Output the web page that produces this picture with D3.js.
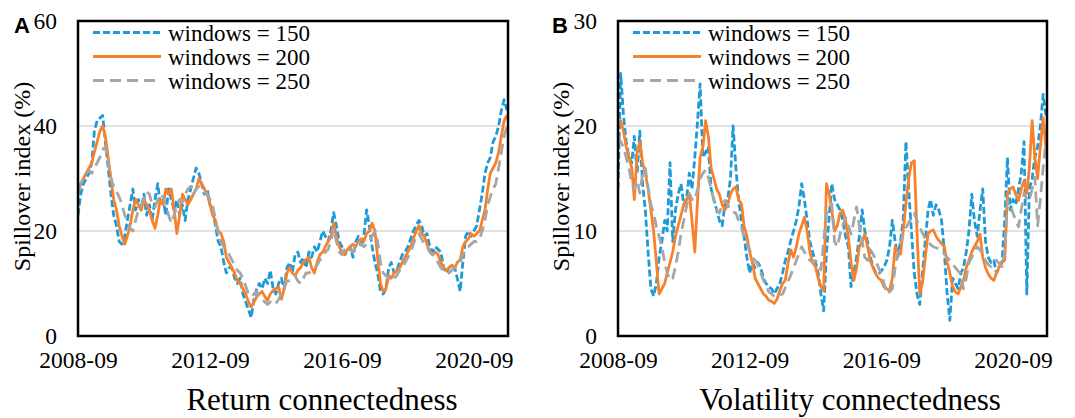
<!DOCTYPE html>
<html>
<head>
<meta charset="utf-8">
<script src="https://cdn.jsdelivr.net/npm/d3@7"></script>
<style>
  html, body { margin: 0; padding: 0; background: #fff; }
  svg { display: block; }
</style>
</head>
<body>
<svg id="chart" width="1075" height="418"></svg>
<script>
// ---------- DATA ----------
const startMonth = "2008-09";
const monthCount = 157;
const xTickLabels = ["2008-09", "2012-09", "2016-09", "2020-09"];
const seriesNames = ["windows = 150", "windows = 200", "windows = 250"];
const panelLabels = ["A", "B"];
const panelTitles = ["Return connectedness", "Volatility connectedness"];
const yLabel = "Spillover index (%)";
const returnTicks = [0, 20, 40, 60];
const volTicks = [0, 10, 20, 30];

const returnW150 = [
  23, 27, 29, 30, 31, 33, 39, 41, 41.5, 42,
  37, 32, 27, 23, 21, 18, 17.5, 19, 22, 25,
  28, 24, 26, 24, 27, 23, 25, 22, 26, 29,
  25, 26, 23, 28, 26, 24, 26, 23, 25, 22,
  26, 28, 30, 32, 31, 29, 27, 28, 25, 24,
  21, 18, 17, 14, 12, 13, 13, 11, 10, 11,
  8, 6.5, 5, 3.5, 7, 9, 10, 9, 11, 10,
  12.5, 9, 8, 10, 11, 9, 13, 14, 12, 15.5,
  16, 14, 15, 13, 16, 15, 17, 16, 18, 20,
  19, 18, 20, 23.5, 21, 18, 17, 15.5, 16, 17,
  15, 18, 19, 17, 19, 24, 21, 17, 14, 12,
  8.5, 8, 9, 13, 14, 12, 12.5, 14, 15.5, 16,
  17, 18.5, 20, 21, 22, 21, 19, 19.5, 17, 16,
  17, 16.5, 16, 13, 12, 13, 13.5, 13, 11, 8.5,
  14, 19, 20, 19, 20, 21, 24, 27, 31, 33,
  34, 37, 38, 40, 43, 45, 43
];
const returnW200 = [
  27, 29, 30, 31, 32, 33, 35, 37, 39, 40,
  38, 34, 30, 26, 24, 21, 19, 17.5, 19, 21,
  24, 26, 25, 24, 26, 25, 24, 22, 20.5, 23,
  26, 25, 28, 27, 28, 24, 19.5, 23, 27, 26,
  25, 26, 27, 28, 30, 29, 28, 27, 25, 23,
  22, 20, 19.5, 18, 15, 14, 13, 12, 10.5, 10,
  9, 8, 6.5, 5.5, 6.5, 7.5, 8, 8.5, 7.5, 6.8,
  8, 8.7, 9, 9.3, 7, 9, 12, 13, 12, 11.5,
  12.5, 13, 14, 14.5, 15, 13, 12, 14, 15.5, 16,
  17, 18, 19, 21.5, 19, 17, 16, 15.5, 16.5, 17,
  17.5, 17, 18, 18.5, 18, 19.5, 20, 21.5, 20, 15,
  10, 8.5, 9, 11.5, 11, 12, 12.5, 13, 14, 15,
  16, 17, 18.5, 20, 21, 19.5, 19, 17.5, 16, 15.5,
  16, 15.5, 14, 13, 12.5, 13, 13.5, 13, 14, 14.5,
  17, 18, 18.5, 19.5, 19, 19.5, 20, 22, 24, 28,
  31, 32, 33, 35, 38, 41, 42
];
const returnW250 = [
  28, 29, 30, 31, 31.5, 31, 32, 33, 34, 35.5,
  36, 33, 30, 28.5, 27.5, 26.5, 25, 23, 22, 20.5,
  20, 22, 24, 25, 26, 27.5, 27, 25, 24.5, 26,
  27, 26.5, 25, 23, 21.5, 23, 25, 26, 25.5, 27,
  28, 28.5, 27, 28, 28.5, 28, 27.5, 27, 26, 25,
  22, 19.5, 18, 17, 16.5, 15.5, 14.5, 13.5, 12.5, 12,
  11, 9.5, 8, 7.5, 8, 8.5, 7.5, 7, 6.5, 6,
  6.5, 6, 6.2, 7, 8, 9, 10.5, 10.5, 11, 11.5,
  10.5, 10, 11, 12, 12, 12.5, 13, 13.5, 14.5, 15,
  16, 16.5, 18, 20.5, 18, 16, 15.5, 16.5, 17, 16.5,
  16, 17.5, 18, 17.5, 17, 17.5, 18, 19, 20, 18,
  14, 12, 11.5, 11, 10.5, 11, 11.5, 12.5, 13, 14,
  15, 16, 17.5, 19, 19.5, 18.5, 17.5, 17, 16, 15.5,
  15, 14, 13, 12.5, 12, 12, 12.5, 13, 13.5, 14,
  15.5, 16.5, 17, 17.5, 18, 18, 18.5, 20, 22, 25,
  26.5, 28, 29, 32, 35, 38, 40
];
const volW150 = [
  14, 25, 21, 18.5, 17, 16.5, 19, 15.5, 19.5, 14.5,
  12, 8, 4.5, 3.8, 5, 7.5, 9, 11, 10, 16.5,
  9, 12, 13.5, 14.5, 12.5, 13, 15.5, 14, 17, 20.5,
  24, 17, 17.5, 18, 14, 13, 12, 11, 10.5, 12.5,
  13, 15, 20, 16, 13, 11, 9.5, 7.5, 6, 7,
  6.5, 7, 6.5, 5.5, 5, 4.7, 4.5, 4, 4.5, 5,
  6, 7.2, 8, 9.1, 10, 11, 12.3, 14.5, 13, 11,
  9, 8, 7, 6, 4, 2.4, 8, 11.5, 14.5, 13,
  12.5, 12, 11, 9.5, 8.5, 4.7, 6, 7.5, 9.5, 12,
  10, 9, 7.5, 6.6, 6, 5.9, 6.2, 6.6, 7.2, 8.5,
  11, 9, 7.5, 9, 11, 18.5, 14, 10, 6, 4,
  3, 6, 9, 12, 13, 11.5, 12.5, 12, 11, 8,
  4, 1.5, 5.5, 5, 4.5, 6, 6.5, 8, 10, 13.5,
  11, 9.5, 12, 14, 9, 7.5, 7, 7.2, 6, 6.5,
  7, 11, 17, 12, 13, 12.5, 14, 15.5, 18.5, 4,
  14, 15, 17, 18, 20, 23, 21
];
const volW200 = [
  20, 20.5, 19.5, 18, 17, 16, 13, 17.5, 18.5, 16.5,
  15.5, 14, 12, 10, 7, 4, 4.5, 5, 6, 7,
  8, 9.5, 10.5, 11.5, 12.5, 13, 13.5, 11, 8, 13,
  17, 18, 20.5, 19, 16, 15, 14, 13.5, 12.5, 12,
  12.5, 13.5, 14, 14.2, 13, 12.6, 10.5, 9.5, 8, 7,
  5.5, 5, 4.5, 4, 3.8, 3.4, 3.3, 3.1, 3.5, 4.3,
  5, 5.3, 7, 8.2, 7.5, 8.5, 9.7, 10.5, 11.3, 10,
  8, 7, 6.6, 5.5, 4.7, 4.3, 14.5, 13.5, 12, 10,
  10.5, 11.7, 12, 11, 9.4, 7, 5.3, 6.5, 8.5, 9,
  9.7, 8.5, 7.2, 6.5, 5.9, 5.5, 5.3, 4.7, 4.5, 4.3,
  5.5, 8.5, 8, 7.8, 10, 12.6, 15, 16.5, 16.7, 10,
  4, 5, 7.5, 9.7, 10, 10.1, 9.5, 9.1, 8.8, 8.5,
  7, 6, 4.7, 4.2, 4, 4.7, 5.3, 6.5, 7.2, 8,
  8.5, 9, 9.7, 7.5, 6.5, 5.9, 5.5, 5.3, 6, 6.6,
  7, 7.2, 13.6, 14, 14.2, 13.5, 12.9, 14, 14.8, 13.6,
  16, 20.5, 17, 15, 18, 20.8, 18
];
const volW250 = [
  19, 18.5, 18, 17, 16, 14.5, 14, 14.8, 13.6, 15.5,
  16, 14.2, 12.5, 11.7, 10.4, 9.5, 8.5, 7, 6, 5.3,
  5.5, 6.6, 8, 9.7, 11, 12.3, 13.6, 13, 12.9, 14,
  15, 15.5, 15.8, 15.1, 14, 12.9, 12, 11.7, 12.5, 12.9,
  12.5, 12, 11.8, 11.7, 11, 10.4, 9.4, 8.8, 8.2, 7.5,
  7.2, 6.8, 6, 5.3, 4.8, 4.2, 4, 3.8, 3.7, 3.9,
  4, 4.6, 5.2, 5.8, 6.5, 7.2, 7.8, 8.5, 8, 7.5,
  7.2, 7, 7.2, 6.8, 6.3, 9, 11.7, 12.2, 12.6, 9,
  8.5, 9.7, 10.5, 11.3, 10.5, 9.7, 11, 12.3, 10.5, 9,
  7.5, 7.2, 8.2, 7.8, 7.2, 6.5, 5.9, 5, 4, 4.2,
  4.5, 6.5, 7.8, 8.8, 9.7, 10.3, 10.8, 11.2, 11.7, 11,
  10.4, 9.8, 9.3, 9, 8.7, 8.5, 8.4, 8.3, 8.2, 7.8,
  7.5, 7.2, 6.9, 6.5, 6.2, 5.9, 4.5, 5.5, 7, 7.5,
  8, 8.5, 8.2, 7.8, 7.2, 6.8, 6.6, 7, 7.2, 6.9,
  6.6, 8, 12.9, 12.5, 11.7, 11, 10.4, 12, 13.6, 13,
  12.9, 14, 15.1, 10.5, 13, 16, 18.5
];

// ---------- STYLES ----------
const colors = ["#1E9BD7", "#F8812B", "#A6A6A6"];
const dashes = ["7,3", null, "11,6"];
const serif = '"Liberation Serif", "Times New Roman", serif';

const parseMonth = d3.timeParse("%Y-%m");
const start = parseMonth(startMonth);
const dates = d3.range(monthCount).map(i => d3.timeMonth.offset(start, i));
const xEnd = d3.timeDay.offset(d3.timeMonth.offset(start, monthCount - 1), 12);

const svg = d3.select("#chart");

const panels = [
  { left: 78, top: 21, width: 430, height: 315, series: [returnW150, returnW200, returnW250],
    ticks: returnTicks, label: panelLabels[0], labelX: 14, yLabelX: 22, title: panelTitles[0], titleX: 322 },
  { left: 618, top: 21, width: 429, height: 315, series: [volW150, volW200, volW250],
    ticks: volTicks, label: panelLabels[1], labelX: 552, yLabelX: 561, title: panelTitles[1], titleX: 850 }
];

panels.forEach((p, pi) => {
  const x = d3.scaleTime().domain([start, xEnd]).range([0, p.width]);
  const y = d3.scaleLinear().domain([p.ticks[0], p.ticks[p.ticks.length - 1]]).range([p.height, 0]);
  const g = svg.append("g").attr("transform", `translate(${p.left},${p.top})`);

  const clipId = "clip" + pi;
  g.append("clipPath").attr("id", clipId)
    .append("rect").attr("x", 0).attr("y", -2).attr("width", p.width).attr("height", p.height + 2);

  // gridlines
  g.append("g").selectAll("line")
    .data(p.ticks.slice(1, -1))
    .join("line")
    .attr("x1", 0).attr("x2", p.width)
    .attr("y1", d => y(d)).attr("y2", d => y(d))
    .attr("stroke", "#D9D9D9").attr("stroke-width", 1.5);

  // series
  const line = d3.line().x((d, i) => x(dates[i])).y(d => y(d));
  const lg = g.append("g").attr("clip-path", `url(#${clipId})`);
  p.series.forEach((s, si) => {
    lg.append("path")
      .datum(s)
      .attr("d", line)
      .attr("fill", "none")
      .attr("stroke", colors[si])
      .attr("stroke-width", 2.8)
      .attr("stroke-linejoin", "round")
      .attr("stroke-dasharray", dashes[si]);
  });

  // frame
  g.append("rect").attr("x", 0).attr("y", 0).attr("width", p.width).attr("height", p.height)
    .attr("fill", "none").attr("stroke", "#000").attr("stroke-width", 2.5);

  // y axis
  const yAxis = g.append("g").call(d3.axisLeft(y).tickValues(p.ticks).tickSize(0).tickPadding(21));
  yAxis.select(".domain").remove();
  yAxis.selectAll("text").attr("font-family", serif).attr("font-size", 23.5).attr("fill", "#000");

  // x axis
  const xAxis = g.append("g").attr("transform", `translate(0,${p.height})`)
    .call(d3.axisBottom(x).tickValues(xTickLabels.map(parseMonth)).tickSize(0).tickPadding(15)
      .tickFormat(d3.timeFormat("%Y-%m")));
  xAxis.select(".domain").remove();
  xAxis.selectAll("text").attr("font-family", serif).attr("font-size", 23.5).attr("fill", "#000");

  // legend
  const leg = g.append("g");
  seriesNames.forEach((name, si) => {
    const ly = 11.5 + si * 24;
    leg.append("line").attr("x1", 15).attr("x2", 83).attr("y1", ly).attr("y2", ly)
      .attr("stroke", colors[si]).attr("stroke-width", 3).attr("stroke-dasharray", dashes[si]);
    leg.append("text").attr("x", 90).attr("y", ly).attr("dy", "0.35em")
      .attr("font-family", serif).attr("font-size", 23).attr("fill", "#000").text(name);
  });

  // y label
  svg.append("text")
    .attr("transform", `translate(${p.yLabelX},${p.top + p.height / 2 - 2}) rotate(-90)`)
    .attr("text-anchor", "middle").attr("dy", "0.35em")
    .attr("font-family", serif).attr("font-size", 24).attr("fill", "#000")
    .text(yLabel);

  // panel letter
  svg.append("text").attr("x", p.labelX).attr("y", 33)
    .attr("font-family", '"Liberation Sans", Arial, sans-serif').attr("font-weight", "bold")
    .attr("font-size", 22).attr("fill", "#000").text(p.label);

  // title
  svg.append("text").attr("x", p.titleX).attr("y", 410).attr("text-anchor", "middle")
    .attr("font-family", serif).attr("font-size", 31).attr("fill", "#000").text(p.title);
});
</script>
</body>
</html>
